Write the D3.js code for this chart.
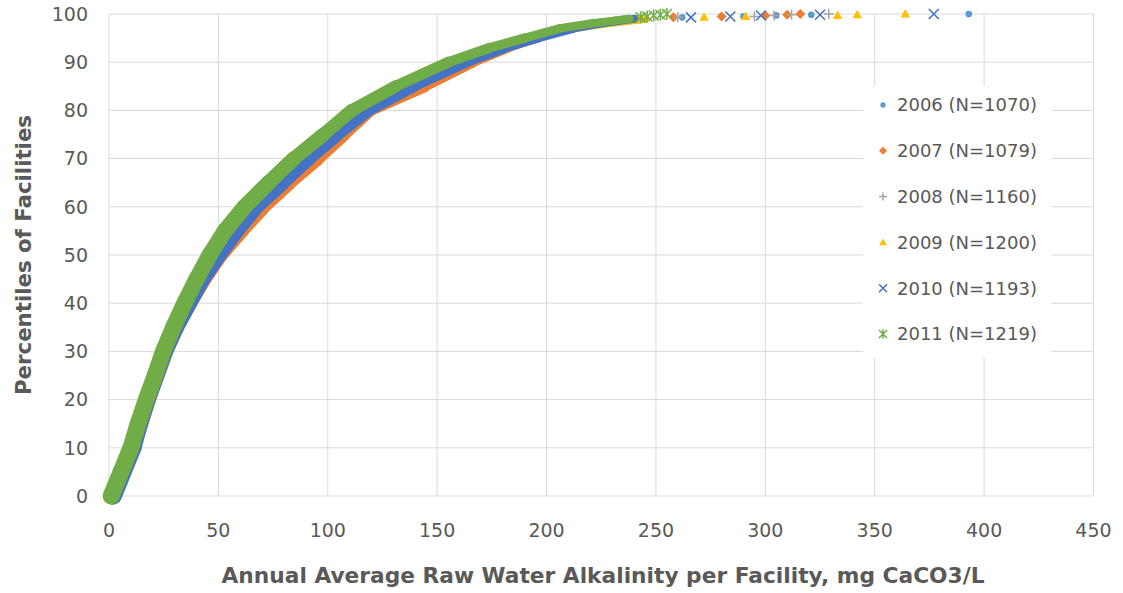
<!DOCTYPE html>
<html>
<head>
<meta charset="utf-8">
<script src="https://cdn.jsdelivr.net/npm/d3@7"></script>
<style>
  body { margin: 0; background: #fff; }
  text { font-family: "DejaVu Sans", sans-serif; fill: #595959; }
</style>
</head>
<body>
<svg id="chart" width="1123" height="593"></svg>

<script>
  var pct = [0, 5, 10, 15, 20, 25, 30, 35, 40, 45, 50, 55, 60, 65, 70, 75, 80, 85, 90, 93, 95, 97, 98, 99];

  // alkalinity (mg CaCO3/L) at each percentile, one array per year
  var alk2006 = [1.5, 6, 10.5, 14, 17.5, 21.5, 25.5, 30, 36, 42, 49, 57, 66, 78, 90, 103, 117, 138, 162, 180, 195, 211, 223, 242];
  var alk2007 = [1.5, 6, 10.5, 14, 17.5, 21.5, 25.5, 30.5, 36.5, 43, 50.5, 60, 70, 82, 95, 107, 119, 144, 166, 182, 195, 210, 222, 245];
  var alk2008 = [1.5, 6, 10.5, 14, 17.5, 21.5, 25.5, 30, 35.5, 41.5, 48, 56, 65, 76, 88, 101, 115, 135, 160, 178, 192, 210, 222, 238];
  var alk2009 = [1, 6, 10.5, 14, 17.5, 21.5, 25.5, 30, 35.5, 41.5, 48, 55, 64, 75, 87, 100, 114, 134, 158, 177, 192, 212, 226, 245];
  var alk2010 = [2, 6.5, 11, 14, 17.5, 21.5, 25.5, 30.5, 36.5, 42.5, 50, 58, 67, 79, 91, 104, 118, 139, 163, 181, 196, 212, 224, 240];
  var alk2011 = [1, 5.5, 10, 13.3, 17, 21, 24.8, 29.4, 34.5, 40, 46, 53, 62, 73, 84.5, 98, 111, 131, 155, 174, 190, 206, 220, 238];

  // the last few facilities of each year, drawn as single markers
  var tailPct = [99.3, 99.5, 99.7, 99.85, 100];
  var tail2006 = [262, 290, 305, 321, 393];
  var tail2007 = [258, 280, 300, 310, 316];
  var tail2008 = [260, 295, 304, 312, 329];
  var tail2009 = [272, 291, 333, 342, 364];
  var tail2010 = [266, 284, 298, 325, 377];
  var tail2011 = [243, 246, 249, 252, 255];

  var labels = ["2006 (N=1070)", "2007 (N=1079)", "2008 (N=1160)", "2009 (N=1200)", "2010 (N=1193)", "2011 (N=1219)"];
  var xTicks = [0, 50, 100, 150, 200, 250, 300, 350, 400, 450];
  var yTicks = [0, 10, 20, 30, 40, 50, 60, 70, 80, 90, 100];

  var series = [
    { label: labels[0], alk: alk2006, tail: tail2006, color: "#5B9BD5", shape: "circle" },
    { label: labels[1], alk: alk2007, tail: tail2007, color: "#ED7D31", shape: "diamond" },
    { label: labels[2], alk: alk2008, tail: tail2008, color: "#A5A5A5", shape: "plus" },
    { label: labels[3], alk: alk2009, tail: tail2009, color: "#FFC000", shape: "triangle" },
    { label: labels[4], alk: alk2010, tail: tail2010, color: "#4472C4", shape: "cross" },
    { label: labels[5], alk: alk2011, tail: tail2011, color: "#70AD47", shape: "star" }
  ];

  var svg = d3.select("#chart");

  var x = d3.scaleLinear().domain([0, 450]).range([109, 1093.5]);
  var y = d3.scaleLinear().domain([0, 100]).range([496, 14]);

  // markers overlap into a band that gets thinner towards the top
  var bandWidth = d3.scaleLinear().domain([0, 60, 80, 92, 99]).range([17, 16, 13, 10, 8]);

  // gridlines
  svg.append("g").selectAll("line").data(yTicks).enter().append("line")
    .attr("x1", x(0)).attr("x2", x(450))
    .attr("y1", function(d) { return y(d); }).attr("y2", function(d) { return y(d); })
    .attr("stroke", "#D9D9D9").attr("stroke-width", 1);
  svg.append("g").selectAll("line").data(xTicks).enter().append("line")
    .attr("x1", function(d) { return x(d); }).attr("x2", function(d) { return x(d); })
    .attr("y1", y(0)).attr("y2", y(100))
    .attr("stroke", "#D9D9D9").attr("stroke-width", 1);

  // tick labels
  svg.append("g").selectAll("text").data(yTicks).enter().append("text")
    .attr("x", 88).attr("y", function(d) { return y(d); })
    .attr("dy", "0.36em").attr("text-anchor", "end")
    .style("font-size", "19px")
    .text(function(d) { return d; });
  svg.append("g").selectAll("text").data(xTicks).enter().append("text")
    .attr("x", function(d) { return x(d); }).attr("y", 537)
    .attr("text-anchor", "middle")
    .style("font-size", "19px")
    .text(function(d) { return d; });

  // marker shapes, roughly like the spreadsheet ones
  var markerPath = function(shape, s) {
    if (shape == "circle") return d3.symbol(d3.symbolCircle, Math.PI * s * s * 0.55)();
    if (shape == "diamond") return "M0," + (-s) + "L" + s + ",0L0," + s + "L" + (-s) + ",0Z";
    if (shape == "triangle") return "M0," + (-s) + "L" + (s * 0.95) + "," + (s * 0.7) + "L" + (-s * 0.95) + "," + (s * 0.7) + "Z";
    if (shape == "plus") return "M" + (-s) + ",0H" + s + "M0," + (-s) + "V" + s;
    if (shape == "cross") return "M" + (-s) + "," + (-s) + "L" + s + "," + s + "M" + (-s) + "," + s + "L" + s + "," + (-s);
    // star: an x with a vertical bar
    return "M" + (-s) + "," + (-s) + "L" + s + "," + s + "M" + (-s) + "," + s + "L" + s + "," + (-s) + "M0," + (-s * 1.2) + "V" + (s * 1.2);
  };
  var isStroked = function(shape) {
    return shape == "plus" || shape == "cross" || shape == "star";
  };
  var drawMarker = function(sel, d, s) {
    sel.attr("d", markerPath(d.shape, s))
      .attr("fill", isStroked(d.shape) ? "none" : d.color)
      .attr("stroke", isStroked(d.shape) ? d.color : "none")
      .attr("stroke-width", 1.5);
  };

  // each year: thick band through the read points, then the tail markers
  series.forEach(function(s) {
    var g = svg.append("g");
    var pts = s.alk.map(function(a, i) { return [a, pct[i]]; });
    for (var i = 0; i < pts.length - 1; i++) {
      g.append("line")
        .attr("x1", x(pts[i][0])).attr("y1", y(pts[i][1]))
        .attr("x2", x(pts[i + 1][0])).attr("y2", y(pts[i + 1][1]))
        .attr("stroke", s.color)
        .attr("stroke-linecap", "round")
        .attr("stroke-width", bandWidth((pts[i][1] + pts[i + 1][1]) / 2));
    }
    s.tail.forEach(function(a, i) {
      g.append("path")
        .attr("transform", "translate(" + x(a) + "," + y(tailPct[i]) + ")")
        .call(drawMarker, s, s.shape == "circle" ? 4.5 : 5);
    });
  });

  // legend
  var legend = svg.append("g");
  legend.append("rect")
    .attr("x", 863).attr("y", 86).attr("width", 188).attr("height", 272)
    .attr("fill", "#fff");
  series.forEach(function(s, i) {
    var ly = 105 + i * 45.8;
    legend.append("path")
      .attr("transform", "translate(883," + ly + ")")
      .call(drawMarker, s, s.shape == "circle" ? 3.6 : 4);
    legend.append("text")
      .attr("x", 897).attr("y", ly).attr("dy", "0.36em")
      .style("font-size", "18px")
      .text(s.label);
  });

  // axis titles
  svg.append("text")
    .attr("x", 603).attr("y", 583)
    .attr("text-anchor", "middle")
    .attr("textLength", 763).attr("lengthAdjust", "spacingAndGlyphs")
    .style("font-size", "22px").style("font-weight", "bold")
    .text("Annual Average Raw Water Alkalinity per Facility, mg CaCO3/L");
  svg.append("text")
    .attr("transform", "translate(31,255) rotate(-90)")
    .attr("text-anchor", "middle")
    .attr("textLength", 280).attr("lengthAdjust", "spacingAndGlyphs")
    .style("font-size", "22px").style("font-weight", "bold")
    .text("Percentiles of Facilities");
</script>
</body>
</html>
